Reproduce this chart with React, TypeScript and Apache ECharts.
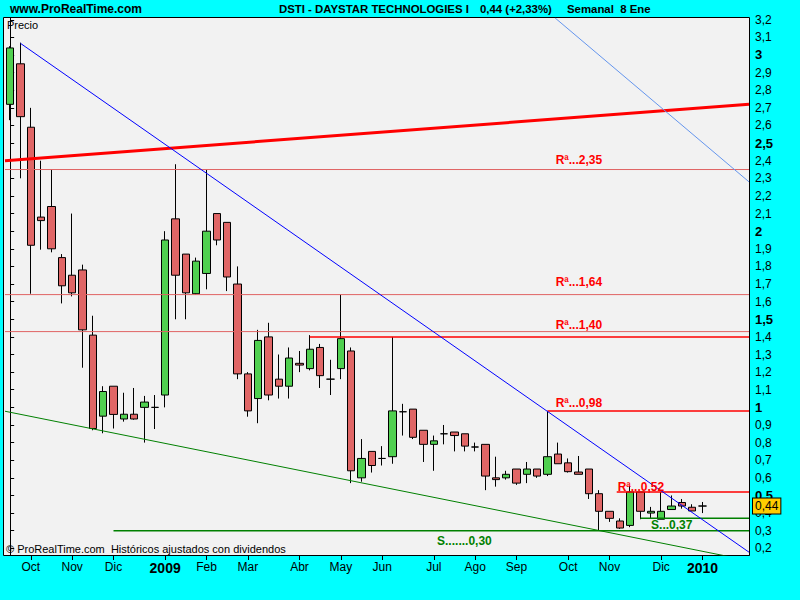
import React, { useEffect, useRef } from "react";
import * as echarts from "echarts";

const FONT = "'Liberation Sans', Arial, sans-serif";

// Weekly candles (index 0..67)
const opens = [2.72, 2.95, 2.59, 2.08, 2.14, 1.85, 1.75, 1.78, 1.41, 0.95, 1.12, 0.934, 0.961, 1.0, 1.0, 1.07, 2.07, 1.87, 1.645, 1.76, 2.1, 2.05, 1.7, 1.19, 1.05, 1.4, 1.16, 1.12, 1.25, 1.22, 1.34, 1.16, 1.22, 1.32, 0.6, 0.75, 0.71, 0.72, 0.975, 0.99, 0.87, 0.79, 0.85, 0.86, 0.85, 0.775, 0.79, 0.6, 0.6, 0.65, 0.62, 0.65, 0.62, 0.735, 0.685, 0.633, 0.65, 0.51, 0.41, 0.355, 0.33, 0.52, 0.4, 0.365, 0.42, 0.46, 0.433, 0.44];
const closes = [3.04, 2.65, 1.92, 2.06, 1.9, 1.69, 1.65, 1.44, 0.88, 1.09, 0.96, 0.961, 0.934, 1.03, 1.0, 1.95, 1.75, 1.65, 1.83, 2.0, 1.95, 1.74, 1.19, 0.98, 1.38, 1.07, 1.12, 1.28, 1.24, 1.33, 1.18, 1.16, 1.39, 0.64, 0.71, 0.67, 0.71, 0.98, 0.975, 0.83, 0.79, 0.81, 0.85, 0.84, 0.78, 0.775, 0.61, 0.59, 0.62, 0.57, 0.65, 0.61, 0.72, 0.68, 0.635, 0.62, 0.51, 0.41, 0.37, 0.315, 0.52, 0.41, 0.41, 0.41, 0.44, 0.44, 0.412, 0.44];
const lows = [2.63, 2.3, 1.645, 1.895, 1.88, 1.59, 1.63, 1.225, 0.87, 0.853, 0.88, 0.919, 0.93, 0.8, 0.877, 1.0, 1.5, 1.5, 1.64, 1.67, 1.92, 1.66, 1.16, 0.947, 0.91, 1.04, 1.05, 1.05, 1.2, 1.21, 1.11, 1.07, 1.16, 0.57, 0.578, 0.63, 0.67, 0.68, 0.84, 0.82, 0.69, 0.64, 0.79, 0.75, 0.75, 0.75, 0.53, 0.55, 0.59, 0.56, 0.57, 0.6, 0.61, 0.68, 0.63, 0.62, 0.48, 0.3, 0.35, 0.31, 0.32, 0.365, 0.37, 0.365, 0.42, 0.425, 0.41, 0.4];
const highs = [3.05, 3.07, 2.7, 2.4, 2.35, 1.87, 2.1, 1.81, 1.52, 1.12, 1.12, 1.083, 1.11, 1.065, 1.07, 2.0, 2.38, 1.87, 1.85, 2.35, 2.1, 2.05, 1.8, 1.2, 1.44, 1.48, 1.3, 1.34, 1.32, 1.41, 1.36, 1.27, 1.64, 1.34, 0.82, 0.75, 0.78, 1.4, 1.02, 0.99, 0.87, 0.84, 0.9, 0.86, 0.85, 0.8, 0.79, 0.72, 0.64, 0.65, 0.69, 0.65, 0.98, 0.8, 0.71, 0.724, 0.65, 0.53, 0.41, 0.37, 0.555, 0.52, 0.435, 0.52, 0.5, 0.48, 0.45, 0.463];

const SLOTS = 72;
const lastPrice = 0.44;
const lastPriceLabel = "0,44";

// X axis month ticks
const monthIndex = [2, 6, 10, 15, 19, 23, 28, 32, 36, 41, 45, 49, 54, 58, 63, 67];
const monthNames = ["Oct", "Nov", "Dic", "2009", "Feb", "Mar", "Abr", "May", "Jun", "Jul", "Ago", "Sep", "Oct", "Nov", "Dic", "2010"];

// Y axis ticks
const yTicks = [0.2, 0.3, 0.4, 0.5, 0.6, 0.7, 0.8, 0.9, 1.0, 1.1, 1.2, 1.3, 1.4, 1.5, 1.6, 1.7, 1.8, 1.9, 2.0, 2.1, 2.2, 2.3, 2.4, 2.5, 2.6, 2.7, 2.8, 2.9, 3.0, 3.1, 3.2];
const yMin = 0.162;
const yMax = 3.21;

// Trend lines: [[x0, v0], [x1, v1]] in slot coordinates
const redTrend = [[-0.5, 2.4], [71.5, 2.72]];
const blueTrend = [[1, 3.066], [71.5, 0.178]];
const lightBlueTrend = [[52.74, 3.21], [71.5, 2.28]];
const greenTrend = [[-0.5, 0.978], [71.5, 0.13]];

// Horizontal levels
const levelValues = [2.35, 1.64, 1.43, 1.4, 0.98, 0.52, 0.37, 0.3];
const levelStart = [-0.5, -0.5, -0.5, 29, 52, 58.7, 61, 10];
const levelKind = ["soft", "soft", "soft", "res", "res", "res", "sup", "sup"];
const levelLabels = ["Rª...2,35", "Rª...1,64", "", "Rª...1,40", "Rª...0,98", "Rª...0,52", "S...0,37", "S.......0,30"];
const labelSlot = [52.79, 52.79, 0, 52.79, 52.79, 58.79, 62.02, 41.31];
const labelDy = [-10, -13, 0, -12, -8, -5, 7, 10];

function fmtY(v: number) {
  const r = Math.round(v * 10) / 10;
  const isBold = Math.abs(r * 2 - Math.round(r * 2)) < 1e-6;
  const s = Number.isInteger(r) ? String(r) : r.toFixed(1).replace(".", ",");
  return isBold ? `{b|${s}}` : s;
}

export default function App() {
  const ref = useRef<HTMLDivElement>(null);

  useEffect(() => {
    if (!ref.current) return;
    const chart = echarts.init(ref.current, undefined, { renderer: "svg" });

    const categories = Array.from({ length: SLOTS }, (_, i) => String(i));
    const candleData = opens.map((o, i) => [o, closes[i], lows[i], highs[i]]);

    const lineSeries = (pts: number[][], color: string, width: number, extra: any = {}) => ({
      type: "line",
      xAxisIndex: 1,
      yAxisIndex: 0,
      data: pts,
      symbol: "none",
      silent: true,
      animation: false,
      clip: true,
      z: 3,
      lineStyle: { color, width },
      ...extra,
    });

    const levelSeries = levelValues.map((v, i) => {
      const kind = levelKind[i];
      const color = kind === "soft" ? "#e06464" : kind === "res" ? "#ff0000" : "#008000";
      const width = kind === "soft" ? 1 : 1.5;
      const textColor = kind === "sup" ? "#008000" : "#ff0000";
      const extra: any = {};
      if (levelLabels[i]) {
        extra.markPoint = {
          silent: true,
          symbol: "circle",
          symbolSize: 0,
          animation: false,
          data: [
            {
              coord: [labelSlot[i], v],
              label: {
                show: true,
                position: "inside",
                align: "left",
                verticalAlign: "middle",
                offset: [0, labelDy[i]],
                formatter: levelLabels[i],
                color: textColor,
                fontWeight: "bold",
                fontSize: 12,
                fontFamily: FONT,
              },
            },
          ],
        };
      }
      return lineSeries([[levelStart[i], v], [71.5, v]], color, width, extra);
    });

    const headerText = (text: string, x: number, size: number) => ({
      type: "text",
      z: 10,
      silent: true,
      style: { text, x, y: 9, font: `bold ${size}px ${FONT}`, fill: "#000", verticalAlign: "middle", textVerticalAlign: "middle" },
    });

    const option: any = {
      animation: false,
      backgroundColor: "#00ffff",
      grid: { left: 5, right: 51, top: 18, bottom: 45, containLabel: false },
      xAxis: [
        {
          type: "category",
          data: categories,
          boundaryGap: true,
          axisLine: { show: true, lineStyle: { color: "#000", width: 1 } },
          axisTick: {
            show: true,
            alignWithLabel: true,
            length: 5,
            lineStyle: { color: "#000" },
            interval: (idx: number) => monthIndex.includes(idx),
          },
          axisLabel: {
            interval: (idx: number) => monthIndex.includes(idx),
            margin: 6,
            color: "#000",
            fontSize: 12,
            fontFamily: FONT,
            formatter: (_v: string, idx: number) => {
              const k = monthIndex.indexOf(idx);
              if (k < 0) return "";
              const name = monthNames[k];
              return /^\d+$/.test(name) ? `{y|${name}}` : name;
            },
            rich: { y: { fontWeight: "bold", fontSize: 14, fontFamily: FONT, color: "#000" } },
          },
          splitLine: { show: false },
        },
        {
          type: "value",
          min: -0.5,
          max: SLOTS - 0.5,
          show: false,
          splitLine: { show: false },
        },
      ],
      yAxis: [
        {
          type: "value",
          position: "right",
          min: yMin,
          max: yMax,
          axisLine: { show: true, lineStyle: { color: "#000", width: 1 } },
          axisTick: { show: true, length: 4, lineStyle: { color: "#000" }, customValues: yTicks },
          axisLabel: {
            customValues: yTicks,
            margin: 6,
            color: "#000",
            fontSize: 12,
            fontFamily: FONT,
            formatter: (v: number) => fmtY(v),
            rich: { b: { fontWeight: "bold", fontSize: 13, fontFamily: FONT, color: "#000" } },
          },
          splitLine: { show: false },
        },
      ],
      graphic: {
        elements: [
          {
            type: "rect",
            z: -10,
            silent: true,
            shape: { x: 3.5, y: 17.5, width: 746, height: 538 },
            style: { fill: "#f2f2f2", stroke: "#000", lineWidth: 1 },
          },
          headerText("www.ProRealTime.com", 10, 12),
          headerText("DSTI - DAYSTAR TECHNOLOGIES I", 279, 11.4),
          headerText("0,44 (+2,33%)", 480, 11.4),
          headerText("Semanal  8 Ene", 567, 11.4),
          {
            type: "text",
            z: 10,
            silent: true,
            style: { text: "Precio", x: 7, y: 25, font: `11px ${FONT}`, fill: "#000", verticalAlign: "middle", textVerticalAlign: "middle" },
          },
          {
            type: "text",
            z: 10,
            silent: true,
            style: { text: "© ProRealTime.com  Históricos ajustados con dividendos", x: 6, y: 549, font: `11px ${FONT}`, fill: "#000", verticalAlign: "middle", textVerticalAlign: "middle" },
          },
        ],
      },
      series: [
        {
          type: "candlestick",
          xAxisIndex: 0,
          yAxisIndex: 0,
          data: candleData,
          barWidth: 8,
          z: 2,
          itemStyle: {
            color: "#50d050",
            color0: "#e06666",
            borderColor: "#000",
            borderColor0: "#000",
            borderColorDoji: "#000",
            borderWidth: 1,
          },
          markLine: {
            silent: true,
            animation: false,
            symbol: ["none", "none"],
            lineStyle: { color: "rgba(0,0,0,0)", width: 0 },
            label: {
              show: true,
              position: "end",
              distance: 4,
              formatter: lastPriceLabel,
              backgroundColor: "#ffcc00",
              borderColor: "#000",
              borderWidth: 1,
              padding: [2, 2, 1, 2],
              color: "#000",
              fontSize: 12,
              fontFamily: FONT,
            },
            data: [{ yAxis: lastPrice }],
          },
        },
        ...levelSeries,
        lineSeries(redTrend, "#ff0000", 3),
        lineSeries(blueTrend, "#0000ff", 1),
        lineSeries(lightBlueTrend, "#6495ed", 1),
        lineSeries(greenTrend, "#008000", 1),
      ],
    };

    chart.setOption(option);
    return () => chart.dispose();
  }, []);

  return (
    <div
      ref={ref}
      style={{ position: "fixed", left: 0, top: 0, width: 800, height: 600 }}
    />
  );
}
